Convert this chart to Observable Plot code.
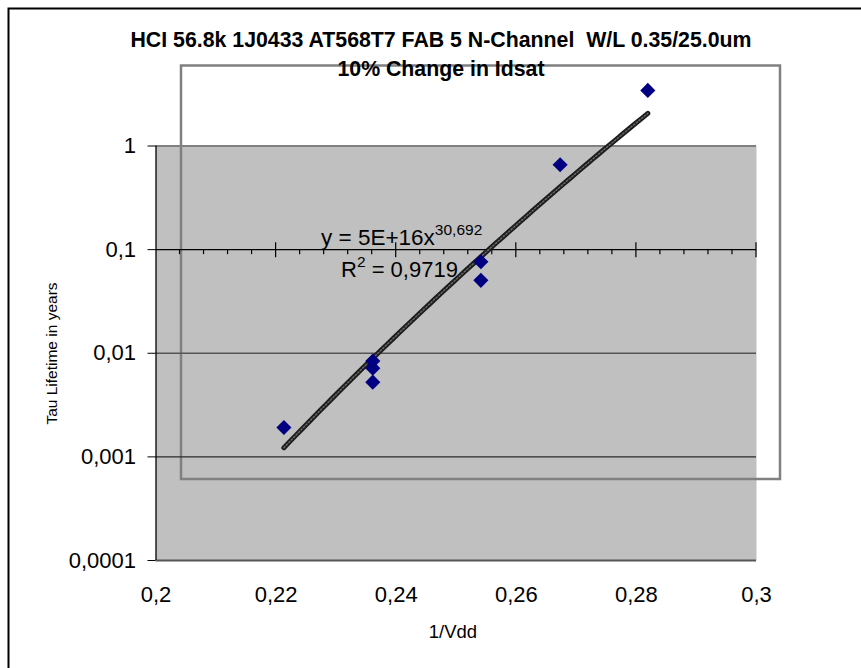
<!DOCTYPE html>
<html>
<head>
<meta charset="utf-8">
<script src="https://cdn.jsdelivr.net/npm/d3@7"></script>
<script src="https://cdn.jsdelivr.net/npm/@observablehq/plot@0.6"></script>
<style>
  html, body { margin: 0; padding: 0; background: #fff; }
  svg { display: block; }
</style>
</head>
<body>
<div id="chart"></div>
<script>
// ---- data ----
const xVals = [0.2213, 0.2361, 0.2361, 0.2361, 0.2541, 0.2541, 0.2673, 0.2819];
const yVals = [0.00192, 0.0084, 0.00718, 0.00526, 0.0764, 0.0505, 0.66, 3.44];
const yTicks = [0.0001, 0.001, 0.01, 0.1, 1];
const yTickLabels = ["0,0001", "0,001", "0,01", "0,1", "1"];
const xTicks = [0.2, 0.22, 0.24, 0.26, 0.28, 0.3];
const xTickLabels = ["0,2", "0,22", "0,24", "0,26", "0,28", "0,3"];
const trendExponent = 30.692;
const titleLines = ["HCI 56.8k 1J0433 AT568T7 FAB 5 N-Channel  W/L 0.35/25.0um", "10% Change in Idsat"];
const xLabel = "1/Vdd";
const yLabel = "Tau Lifetime in years";
const eqMain = "y = 5E+16x";
const eqSup = "30,692";
const r2Text = " = 0,9719";

const points = xVals.map((x, i) => ({x, y: yVals[i]}));

// power trendline y = a * x^b, b from the chart's equation, a fitted to the data (log space)
const mlx = d3.mean(xVals, v => Math.log(v));
const mly = d3.mean(yVals, v => Math.log(v));
const trendA = Math.exp(mly - trendExponent * mlx);
const [xMin, xMax] = d3.extent(xVals);
const trend = d3.range(0, 61).map(i => {
  const x = xMin + (xMax - xMin) * i / 60;
  return {x, y: trendA * Math.pow(x, trendExponent)};
});

const minorTicks = d3.range(1, 25).map(i => 0.2 + i * 0.004).filter(v => Math.abs(v / 0.02 - Math.round(v / 0.02)) > 1e-6);

const FONT = "'Liberation Sans', Arial, sans-serif";

const plot = Plot.plot({
  width: 861,
  height: 668,
  marginLeft: 155.5,
  marginRight: 105,
  marginTop: 145.5,
  marginBottom: 108,
  style: {background: "#fff", fontFamily: FONT, overflow: "visible"},
  x: {domain: [0.2, 0.3]},
  y: {type: "log", domain: [0.0001, 1]},
  marks: [
    Plot.frame({fill: "#c0c0c0", stroke: null}),
    Plot.ruleY([0.01], {stroke: "#555", strokeWidth: 1.5}),
    Plot.ruleY([0.001], {stroke: "#2a2a2a", strokeWidth: 1.2}),
    Plot.ruleY([1], {stroke: "#808080", strokeWidth: 2}),
    Plot.ruleY([0.0001], {stroke: "#555", strokeWidth: 2}),
    Plot.ruleY([0.1], {stroke: "#000", strokeWidth: 1.3}),
    Plot.ruleX([0.2], {stroke: "#000", strokeWidth: 1.3}),
    Plot.axisY(yTicks, {
      tickSize: 8, tickPadding: 12, fontSize: 22,
      tickFormat: d => yTickLabels[yTicks.indexOf(d)],
      label: null, stroke: "#000"
    }),
    Plot.axisX(xTicks, {
      tickSize: 0, tickPadding: 26, fontSize: 22,
      tickFormat: d => xTickLabels[xTicks.indexOf(d)],
      label: null
    }),
    Plot.line(trend, {x: "x", y: "y", stroke: "#1c1c1c", strokeWidth: 5}),
    Plot.line(trend, {x: "x", y: "y", stroke: "#6a6a6a", strokeWidth: 1.4, strokeDasharray: "1.5,2"}),
    Plot.dot(points, {x: "x", y: "y", symbol: "diamond2", r: 6.8, fill: "#000080", stroke: null})
  ]
});

document.getElementById("chart").appendChild(plot);

const svg = d3.select(plot);
const sx = plot.scale("x");
const sy = plot.scale("y");

// extra tick marks on the axis line at 0.1
const y01 = sy.apply(0.1);
const tickG = svg.append("g").attr("stroke", "#000").attr("stroke-width", 1.2);
xTicks.slice(1).forEach(v => {
  const px = sx.apply(v);
  tickG.append("line").attr("x1", px).attr("x2", px).attr("y1", y01 - 7).attr("y2", y01 + 8);
});
minorTicks.forEach(v => {
  const px = sx.apply(v);
  tickG.append("line").attr("x1", px).attr("x2", px).attr("y1", y01).attr("y2", y01 + 5);
});
const lineNode = svg.select('[aria-label="line"]').node();
lineNode.parentNode.insertBefore(tickG.node(), lineNode);

// stray grey rectangle outline (left over in the reference)
const box = svg.append("rect")
  .attr("x", 181).attr("y", 65.5).attr("width", 599).attr("height", 413.5)
  .attr("fill", "none").attr("stroke", "#808080").attr("stroke-width", 2.5);
const frameNode = svg.select('[aria-label="frame"]').node();
frameNode.after(box.node());

// outer chart border (top and left visible)
svg.append("path").attr("d", "M8.5,668V8.5H861").attr("fill", "none").attr("stroke", "#000").attr("stroke-width", 2);

// title
svg.append("text").attr("x", 441).attr("y", 47).attr("text-anchor", "middle")
  .attr("font-family", FONT).attr("font-weight", "bold").attr("font-size", 21.3).text(titleLines[0]);
svg.append("text").attr("x", 441).attr("y", 76).attr("text-anchor", "middle")
  .attr("font-family", FONT).attr("font-weight", "bold").attr("font-size", 21.3).text(titleLines[1]);

// axis titles
svg.append("text").attr("x", 453).attr("y", 638).attr("text-anchor", "middle")
  .attr("font-family", FONT).attr("font-size", 18.5).text(xLabel);
svg.append("text").attr("transform", "translate(57,353.5) rotate(-90)").attr("text-anchor", "middle")
  .attr("font-family", FONT).attr("font-size", 15.5).text(yLabel);

// trendline equation
const eq = svg.append("text").attr("x", 321).attr("y", 245).attr("text-anchor", "start")
  .attr("font-family", FONT).attr("font-size", 22.5);
eq.append("tspan").text(eqMain);
eq.append("tspan").attr("font-size", 15.5).attr("dy", -10).text(eqSup);
const r2 = svg.append("text").attr("x", 341).attr("y", 277).attr("text-anchor", "start")
  .attr("font-family", FONT).attr("font-size", 22);
r2.append("tspan").text("R");
r2.append("tspan").attr("font-size", 15.5).attr("dy", -10).text("2");
r2.append("tspan").attr("dy", 10).text(r2Text);
</script>
</body>
</html>
